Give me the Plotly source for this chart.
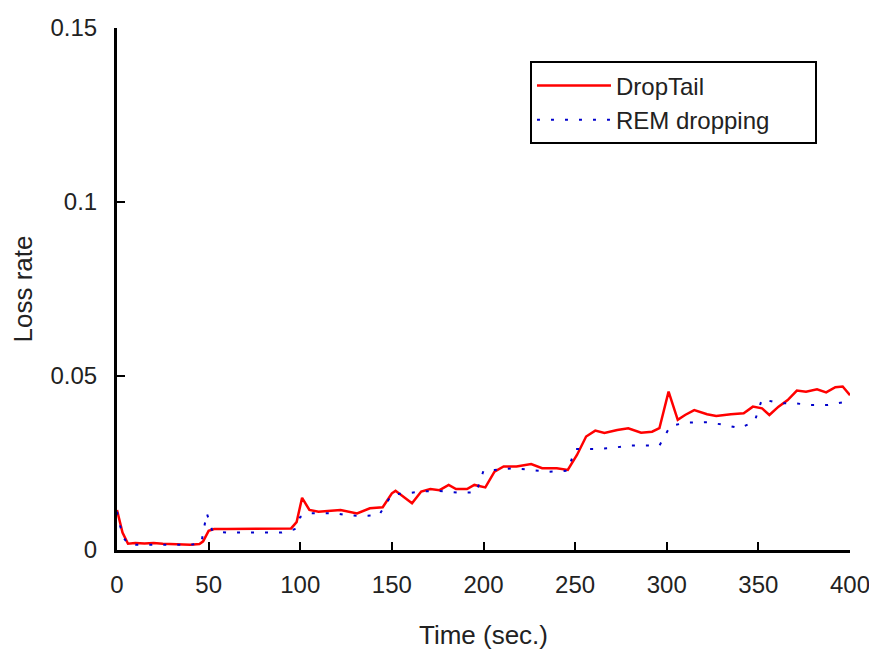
import plotly.graph_objects as go

# DropTail series (time in sec., loss rate)
dt_x = [0, 3, 6, 10, 15, 20, 25, 30, 35, 40, 45, 47, 50, 53, 60, 70, 80, 90, 95, 98,
        101, 105, 110, 115, 122, 131, 138, 145, 150, 152, 156, 161, 166, 171, 176, 181, 185, 191, 195, 201,
        206, 211, 218, 226, 232, 240, 246, 251, 256, 261, 266, 273, 279, 286, 292, 296, 301, 303, 306, 310,
        315, 322, 327, 335, 342, 347, 352, 356, 361, 366, 371, 376, 382, 387, 392, 396, 400]
dt_y = [0.0115, 0.005, 0.0018, 0.002, 0.0019, 0.002, 0.0018, 0.0017, 0.0016, 0.0015,
        0.0017, 0.0025, 0.0055, 0.006, 0.006, 0.006, 0.0062, 0.006, 0.0062, 0.008,
        0.015, 0.0115, 0.011, 0.0112, 0.0115, 0.0105, 0.012, 0.0123, 0.0163, 0.017,
        0.0153, 0.0134, 0.0168, 0.0175, 0.0172, 0.0187, 0.0175, 0.0175, 0.0187, 0.018,
        0.0225, 0.024, 0.024, 0.0247, 0.0235, 0.0235, 0.023, 0.0273, 0.0326, 0.0343,
        0.0336, 0.0345, 0.035, 0.0337, 0.034, 0.035, 0.0455, 0.0422, 0.0374, 0.0388,
        0.0402, 0.039, 0.0385, 0.039, 0.0393, 0.0412, 0.0407, 0.0388, 0.0412, 0.0431,
        0.0458, 0.0455, 0.0462, 0.0453, 0.0468, 0.047, 0.0445]

# REM dropping series
rem_x = [0, 3, 6, 10, 20, 30, 40, 46, 49, 52, 60, 70, 80, 90, 97, 100, 104, 110, 120, 125,
         134, 143, 150, 158, 166, 175, 186, 196, 200, 206, 216, 226, 236, 246, 250, 260, 270, 279, 290, 296,
         302, 311, 322, 331, 340, 348, 352, 361, 369, 378, 388, 397, 400]
rem_y = [0.011, 0.004, 0.0017, 0.0015, 0.0015, 0.0015, 0.0015, 0.002, 0.0106, 0.0055,
         0.005, 0.005, 0.005, 0.005, 0.006, 0.0095, 0.0106, 0.0106, 0.0105, 0.010,
         0.0098, 0.010, 0.016, 0.0163, 0.0168, 0.017, 0.0165, 0.0165, 0.0228, 0.023,
         0.0235, 0.023, 0.0225, 0.0228, 0.029, 0.029, 0.0293, 0.030, 0.030, 0.030,
         0.0357, 0.0366, 0.0367, 0.036, 0.035, 0.037, 0.0434, 0.0422, 0.0422, 0.0417,
         0.0417, 0.0425, 0.044]

x_ticks = [0, 50, 100, 150, 200, 250, 300, 350, 400]
y_ticks = [0, 0.05, 0.1, 0.15]
y_tick_labels = ["0", "0.05", "0.1", "0.15"]

FONT = "Liberation Sans, Arial, sans-serif"

fig = go.Figure()
fig.add_trace(go.Scatter(x=dt_x, y=dt_y, mode="lines", name="DropTail",
                         line=dict(color="#ff0000", width=2.5)))
fig.add_trace(go.Scatter(x=rem_x, y=rem_y, mode="lines",
                         name="REM dropping" + "\u00a0" * 6,
                         line=dict(color="#0000cc", width=2, dash="3px,11px")))

# the page body has an 8px default margin; compensate so the plot area lands where it should
fig.update_layout(
    width=869, height=653,
    margin=dict(l=109, r=27, t=20, b=111),
    paper_bgcolor="white", plot_bgcolor="white",
    font=dict(family=FONT, size=24, color="#222222"),
    legend=dict(x=0.5634, y=0.936, xanchor="left", yanchor="top",
                bordercolor="black", borderwidth=2, bgcolor="white",
                font=dict(size=24), itemwidth=74,
                traceorder="normal"),
    xaxis=dict(range=[0, 400], tickvals=x_ticks, ticks="inside", ticklen=8, tickwidth=2,
               tickcolor="black", showline=True, linecolor="black", linewidth=3,
               showgrid=False, zeroline=False, mirror=False, automargin=False,
               title=dict(text="Time (sec.)", font=dict(size=26), standoff=30),
               ticklabelstandoff=11, ticklabeloverflow="allow"),
    yaxis=dict(range=[0, 0.15], tickvals=y_ticks, ticktext=y_tick_labels, ticks="inside",
               ticklen=8, tickwidth=2, tickcolor="black", showline=True, linecolor="black",
               linewidth=3, showgrid=False, zeroline=False, mirror=False, automargin=False,
               title=dict(text="Loss rate", font=dict(size=26), standoff=14),
               ticklabelstandoff=12),
)

fig.write_html("out.html")
